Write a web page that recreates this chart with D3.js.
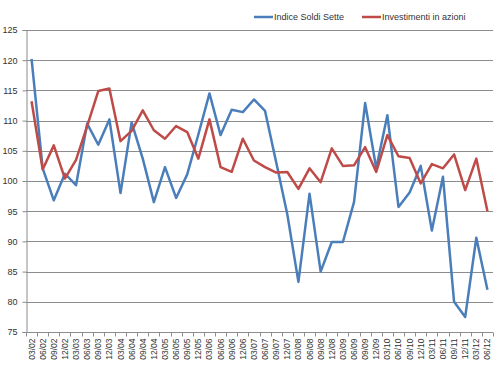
<!DOCTYPE html>
<html>
<head>
<meta charset="utf-8">
<script src="https://cdn.jsdelivr.net/npm/d3@7"></script>
<style>
  body { margin: 0; background: #fff; }
  text { font-family: "Liberation Sans", Arial, sans-serif; fill: #333; }
</style>
</head>
<body>
<div id="chart"></div>
<script>
// quarterly labels 03/02 .. 06/12
const categories = [
    "03/02", "06/02", "09/02", "12/02", "03/03", "06/03", "09/03", "12/03",
    "03/04", "06/04", "09/04", "12/04", "03/05", "06/05", "09/05", "12/05",
    "03/06", "06/06", "09/06", "12/06", "03/07", "06/07", "09/07", "12/07",
    "03/08", "06/08", "09/08", "12/08", "03/09", "06/09", "09/09", "12/09",
    "03/10", "06/10", "09/10", "12/10", "03/11", "06/11", "09/11", "12/11",
    "03/12", "06/12"
];

const soldiSette = [
    120.2, 102.1, 96.8, 101.2, 99.3, 109.5, 106.0, 110.2,
    98.0, 109.7, 103.7, 96.5, 102.3, 97.2, 101.1, 107.7,
    114.5, 107.6, 111.8, 111.4, 113.5, 111.6, 103.1, 94.5,
    83.3, 97.9, 85.0, 89.9, 89.9, 96.5, 112.9, 102.1,
    110.9, 95.7, 98.1, 102.5, 91.8, 100.7, 80.0, 77.5,
    90.6, 82.0
];

const azioni = [
    113.2, 101.9, 105.9, 100.4, 103.5, 109.1, 114.9, 115.3,
    106.6, 108.3, 111.7, 108.4, 107.0, 109.1, 108.1, 103.7,
    110.2, 102.3, 101.5, 107.0, 103.4, 102.3, 101.4, 101.5,
    98.7, 102.1, 99.8, 105.4, 102.5, 102.6, 105.6, 101.5,
    107.6, 104.1, 103.8, 99.6, 102.8, 102.1, 104.4, 98.5,
    103.7, 95.0
];

const yTicks = [75, 80, 85, 90, 95, 100, 105, 110, 115, 120, 125];

const seriesNames = ["Indice Soldi Sette", "Investimenti in azioni"];
const seriesColors = ["#4a7ebb", "#be4b48"];

const width = 500, height = 374;
const plot = { left: 26, right: 493, top: 30, bottom: 332 };

const svg = d3.select("#chart")
    .append("svg")
    .attr("width", width)
    .attr("height", height);

const x = d3.scaleBand()
    .domain(categories)
    .range([plot.left, plot.right]);

const y = d3.scaleLinear()
    .domain([75, 125])
    .range([plot.bottom, plot.top]);

// horizontal grid lines
svg.selectAll(".grid")
    .data(yTicks.filter(d => d > 75))
    .enter()
    .append("line")
    .attr("class", "grid")
    .attr("x1", plot.left)
    .attr("x2", plot.right)
    .attr("y1", d => Math.round(y(d)) + 0.5)
    .attr("y2", d => Math.round(y(d)) + 0.5)
    .attr("stroke", "#8c8c8c")
    .attr("stroke-width", 1);

// y axis
const yAxis = svg.append("g")
    .attr("transform", `translate(${plot.left + 0.5},0)`)
    .call(d3.axisLeft(y).tickValues(yTicks).tickSize(4).tickPadding(5));
yAxis.selectAll("text").attr("font-size", 9).attr("fill", "#333");
yAxis.selectAll("line, path").attr("stroke", "#8c8c8c");

// x axis with ticks between categories
const xAxis = svg.append("g")
    .attr("transform", `translate(0,${Math.round(plot.bottom) + 0.5})`);
xAxis.append("line")
    .attr("x1", plot.left).attr("x2", plot.right)
    .attr("stroke", "#8c8c8c");
xAxis.selectAll(".tk")
    .data(categories.concat(["end"]))
    .enter()
    .append("line")
    .attr("class", "tk")
    .attr("x1", (d, i) => Math.round(plot.left + i * x.step()) + 0.5)
    .attr("x2", (d, i) => Math.round(plot.left + i * x.step()) + 0.5)
    .attr("y1", 0).attr("y2", 4)
    .attr("stroke", "#8c8c8c");
xAxis.selectAll(".lbl")
    .data(categories)
    .enter()
    .append("text")
    .attr("class", "lbl")
    .attr("transform", d => `translate(${x(d) + x.bandwidth() / 2 + 3},6) rotate(-90)`)
    .attr("text-anchor", "end")
    .attr("font-size", 8.5)
    .text(d => d);

// lines
const line = d3.line()
    .x((d, i) => x(categories[i]) + x.bandwidth() / 2)
    .y(d => y(d));

[soldiSette, azioni].forEach(function (values, k) {
    svg.append("path")
        .datum(values)
        .attr("d", line)
        .attr("fill", "none")
        .attr("stroke", seriesColors[k])
        .attr("stroke-width", 2.5)
        .attr("stroke-linejoin", "round");
});

// legend
const legendX = [254, 362];
const legend = svg.selectAll(".legend")
    .data(seriesNames)
    .enter()
    .append("g")
    .attr("class", "legend")
    .attr("transform", (d, i) => `translate(${legendX[i]},17)`);
legend.append("line")
    .attr("x1", 0).attr("x2", 19)
    .attr("stroke", (d, i) => seriesColors[i])
    .attr("stroke-width", 2.5);
legend.append("text")
    .attr("x", 20)
    .attr("y", 3)
    .attr("font-size", 9)
    .text(d => d);
</script>
</body>
</html>
